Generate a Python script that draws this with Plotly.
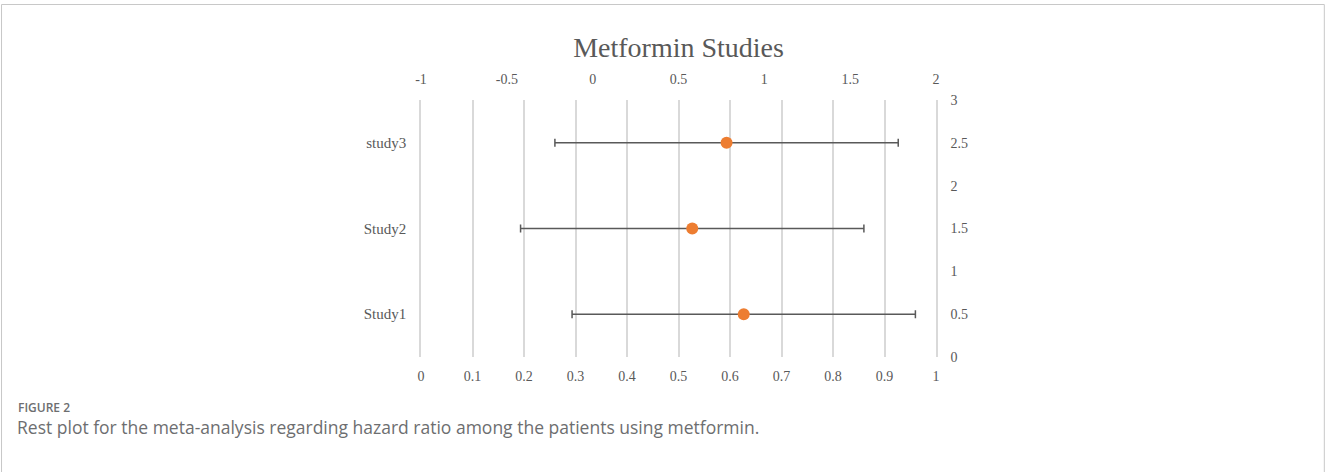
import plotly.graph_objects as go

# ---- data ----
studies = ["Study1", "Study2", "study3"]
y_pos = [0.5, 1.5, 2.5]
hr_values = [0.88, 0.58, 0.78]
err_values = [1, 1, 1]

top_ticks = [-1, -0.5, 0, 0.5, 1, 1.5, 2]
bottom_ticks = [0, 0.1, 0.2, 0.3, 0.4, 0.5, 0.6, 0.7, 0.8, 0.9, 1]
right_ticks = [0, 0.5, 1, 1.5, 2, 2.5, 3]

title_text = "Metformin Studies"
fig_label = "FIGURE 2"
caption = "Rest plot for the meta-analysis regarding hazard ratio among the patients using metformin."

W, H = 1328, 472
L, R, T, B = 421.4, 935.7, 100, 357
pw, ph = R - L, B - T

def px(xp):
    return (xp - L) / pw

def py(yp):
    return (B - yp) / ph

serif = "Liberation Serif, Times New Roman, serif"
grey = "#595959"
gridc = "#d9d9d9"

fig = go.Figure()
# invisible trace so the primary (bottom/left) axes are drawn
fig.add_trace(go.Scatter(x=[None], y=[None], xaxis="x", yaxis="y",
                         mode="markers", showlegend=False, hoverinfo="skip"))
fig.add_trace(go.Scatter(
    x=hr_values, y=y_pos, xaxis="x2", yaxis="y2", mode="markers",
    marker=dict(color="#ED7D31", size=12, line=dict(width=0)),
    error_x=dict(type="data", array=err_values, symmetric=True,
                 color=grey, thickness=1.5, width=4),
    showlegend=False, hoverinfo="skip",
))

tick_font = dict(family=serif, size=14, color=grey)

fig.update_layout(
    width=W, height=H,
    margin=dict(l=L, r=W - R, t=T, b=H - B, pad=0),
    paper_bgcolor="white", plot_bgcolor="white",
    font=dict(family=serif, size=14, color=grey),
    showlegend=False,
    title=dict(text=title_text, x=(L + R) / 2 / W, xanchor="center",
               y=1 - 47 / H, yanchor="middle",
               font=dict(family=serif, size=28, color=grey)),
    xaxis=dict(range=[0, 1], tickvals=bottom_ticks, ticktext=[f"{v:g}" for v in bottom_ticks],
               showgrid=True, gridcolor=gridc, gridwidth=1.5,
               zeroline=False, showline=False,
               ticks="outside", ticklen=6, tickcolor="rgba(0,0,0,0)",
               tickfont=tick_font),
    xaxis2=dict(range=[-1, 2], overlaying="x", side="top",
                tickvals=top_ticks, ticktext=[f"{v:g}" for v in top_ticks],
                showgrid=False, zeroline=False, showline=False,
                ticks="outside", ticklen=9, tickcolor="rgba(0,0,0,0)",
                tickfont=tick_font),
    yaxis=dict(range=[0, 3], tickvals=y_pos, ticktext=studies,
               showgrid=False, zeroline=False,
               showline=True, linecolor=gridc, linewidth=1.5,
               ticks="outside", ticklen=10, tickcolor="rgba(0,0,0,0)",
               tickfont=dict(family=serif, size=15, color=grey)),
    yaxis2=dict(range=[0, 3], overlaying="y", side="right",
                tickvals=right_ticks, ticktext=[f"{v:g}" for v in right_ticks],
                showgrid=False, zeroline=False,
                showline=True, linecolor=gridc, linewidth=1.5,
                ticks="outside", ticklen=10, tickcolor="rgba(0,0,0,0)",
                tickfont=tick_font),
)

# outer frame
fig.add_shape(type="rect", xref="paper", yref="paper",
              x0=px(2.5), x1=px(1323.5), y0=py(480), y1=py(4.5),
              line=dict(color="#c8c8c8", width=1), fillcolor="rgba(0,0,0,0)",
              layer="below")

fig.add_annotation(text=fig_label, xref="paper", yref="paper",
                   x=px(18), y=py(407), xanchor="left", yanchor="middle",
                   showarrow=False, borderpad=0,
                   font=dict(family="Open Sans, sans-serif", size=12, weight=600,
                             color="#6d6e70"))
fig.add_annotation(text=caption, xref="paper", yref="paper",
                   x=px(17), y=py(427), xanchor="left", yanchor="middle",
                   showarrow=False, borderpad=0,
                   font=dict(family="Open Sans, sans-serif", size=17.5, color="#6d6e70"))

fig.write_html("out.html", config={"displayModeBar": False},
               post_script="document.body.style.margin='0';document.body.style.overflow='hidden';")
